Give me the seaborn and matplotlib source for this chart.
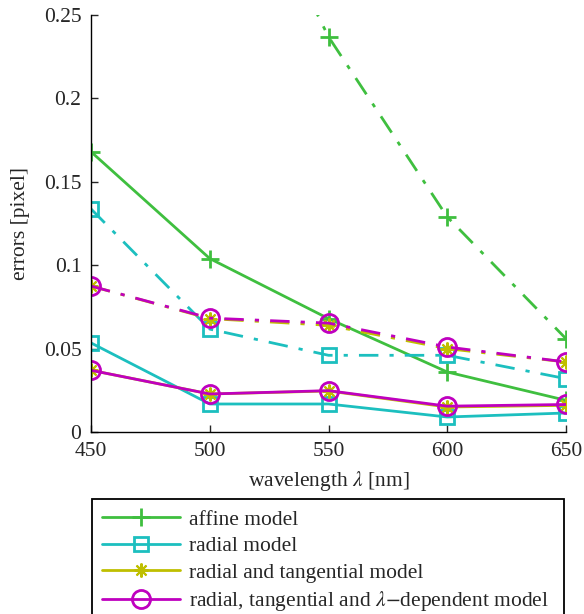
import seaborn as sns
import matplotlib.pyplot as plt

# wavelengths [nm]
wavelength = [450, 500, 550, 600, 650]

# solid lines
affine = [0.168, 0.104, 0.068, 0.036, 0.019]
radial = [0.0534, 0.0168, 0.0168, 0.009, 0.0114]
radial_tan = [0.037, 0.0228, 0.0246, 0.015, 0.016]
radial_tan_lam = [0.037, 0.0228, 0.0248, 0.0155, 0.0165]

# dash-dot lines (affine at 500 nm lies above the plotted range)
affine_dd = [0.38, 0.38, 0.237, 0.129, 0.056]
radial_dd = [0.1337, 0.0617, 0.046, 0.046, 0.032]
radial_tan_dd = [0.0875, 0.068, 0.064, 0.050, 0.042]
radial_tan_lam_dd = [0.0875, 0.0683, 0.0653, 0.051, 0.042]

labels = ['affine model', 'radial model', 'radial and tangential model',
          r'radial, tangential and $\lambda$$-$dependent model']

sns.set_style('white')
plt.rcParams['font.family'] = ['Liberation Serif', 'DejaVu Serif']
plt.rcParams['mathtext.fontset'] = 'stix'

green = '#3fbf3f'
cyan = '#1cbfbf'
yellow = '#bfbf00'
magenta = '#bf00bf'

asterisk = (8, 2, 0)
series = [
    (affine, affine_dd, green, '+', 13, 2),
    (radial, radial_dd, cyan, 's', 10, 2),
    (radial_tan, radial_tan_dd, yellow, asterisk, 10, 1.5),
    (radial_tan_lam, radial_tan_lam_dd, magenta, 'o', 13, 2),
]

fig = plt.figure(figsize=(5.84, 6.14), dpi=100)
ax = fig.add_axes([0.156, 0.2964, 0.813, 0.679])

dashdot = (0, (7, 4, 1.5, 4))
handles = []
for (solid, dd, col, mk, ms, mew), lab in zip(series, labels):
    mfc = 'none' if mk in ('s', 'o') else col
    kw = dict(marker=mk, markersize=ms, markerfacecolor=mfc,
              markeredgecolor=col, markeredgewidth=mew)
    sns.lineplot(x=wavelength, y=solid, ax=ax, color=col, lw=2, **kw)
    sns.lineplot(x=wavelength, y=dd, ax=ax, color=col, lw=2,
                 linestyle=dashdot, **kw)
    handles.append(plt.Line2D([], [], color=col, lw=2, **kw))

ax.set_xlim(450, 650)
ax.set_ylim(0, 0.25)
ax.set_xticks([450, 500, 550, 600, 650])
ax.set_yticks([0, 0.05, 0.1, 0.15, 0.2, 0.25])
ax.set_yticklabels(['0', '0.05', '0.1', '0.15', '0.2', '0.25'])
ax.tick_params(direction='in', length=5, width=1, labelsize=15.5, pad=7,
               left=True, bottom=True)
for s in ['top', 'right']:
    ax.spines[s].set_visible(False)
for s in ['left', 'bottom']:
    ax.spines[s].set_color('black')
    ax.spines[s].set_linewidth(1)

ax.set_xlabel(r'wavelength $\lambda$ [nm]', fontsize=15.5, labelpad=6)
ax.set_ylabel('errors [pixel]', fontsize=15.5, labelpad=10)

leg = fig.legend(handles, labels, loc='upper left',
                 bbox_to_anchor=(0.157, -0.1, 0.809, 0.2875), mode='expand',
                 frameon=True, fancybox=False, edgecolor='black', framealpha=1,
                 fontsize=15.5, handlelength=3.6, borderaxespad=0,
                 labelspacing=0.3, handletextpad=0.4, borderpad=0.5)
leg.get_frame().set_linewidth(1.3)

fig.savefig('out.png', dpi=100)
